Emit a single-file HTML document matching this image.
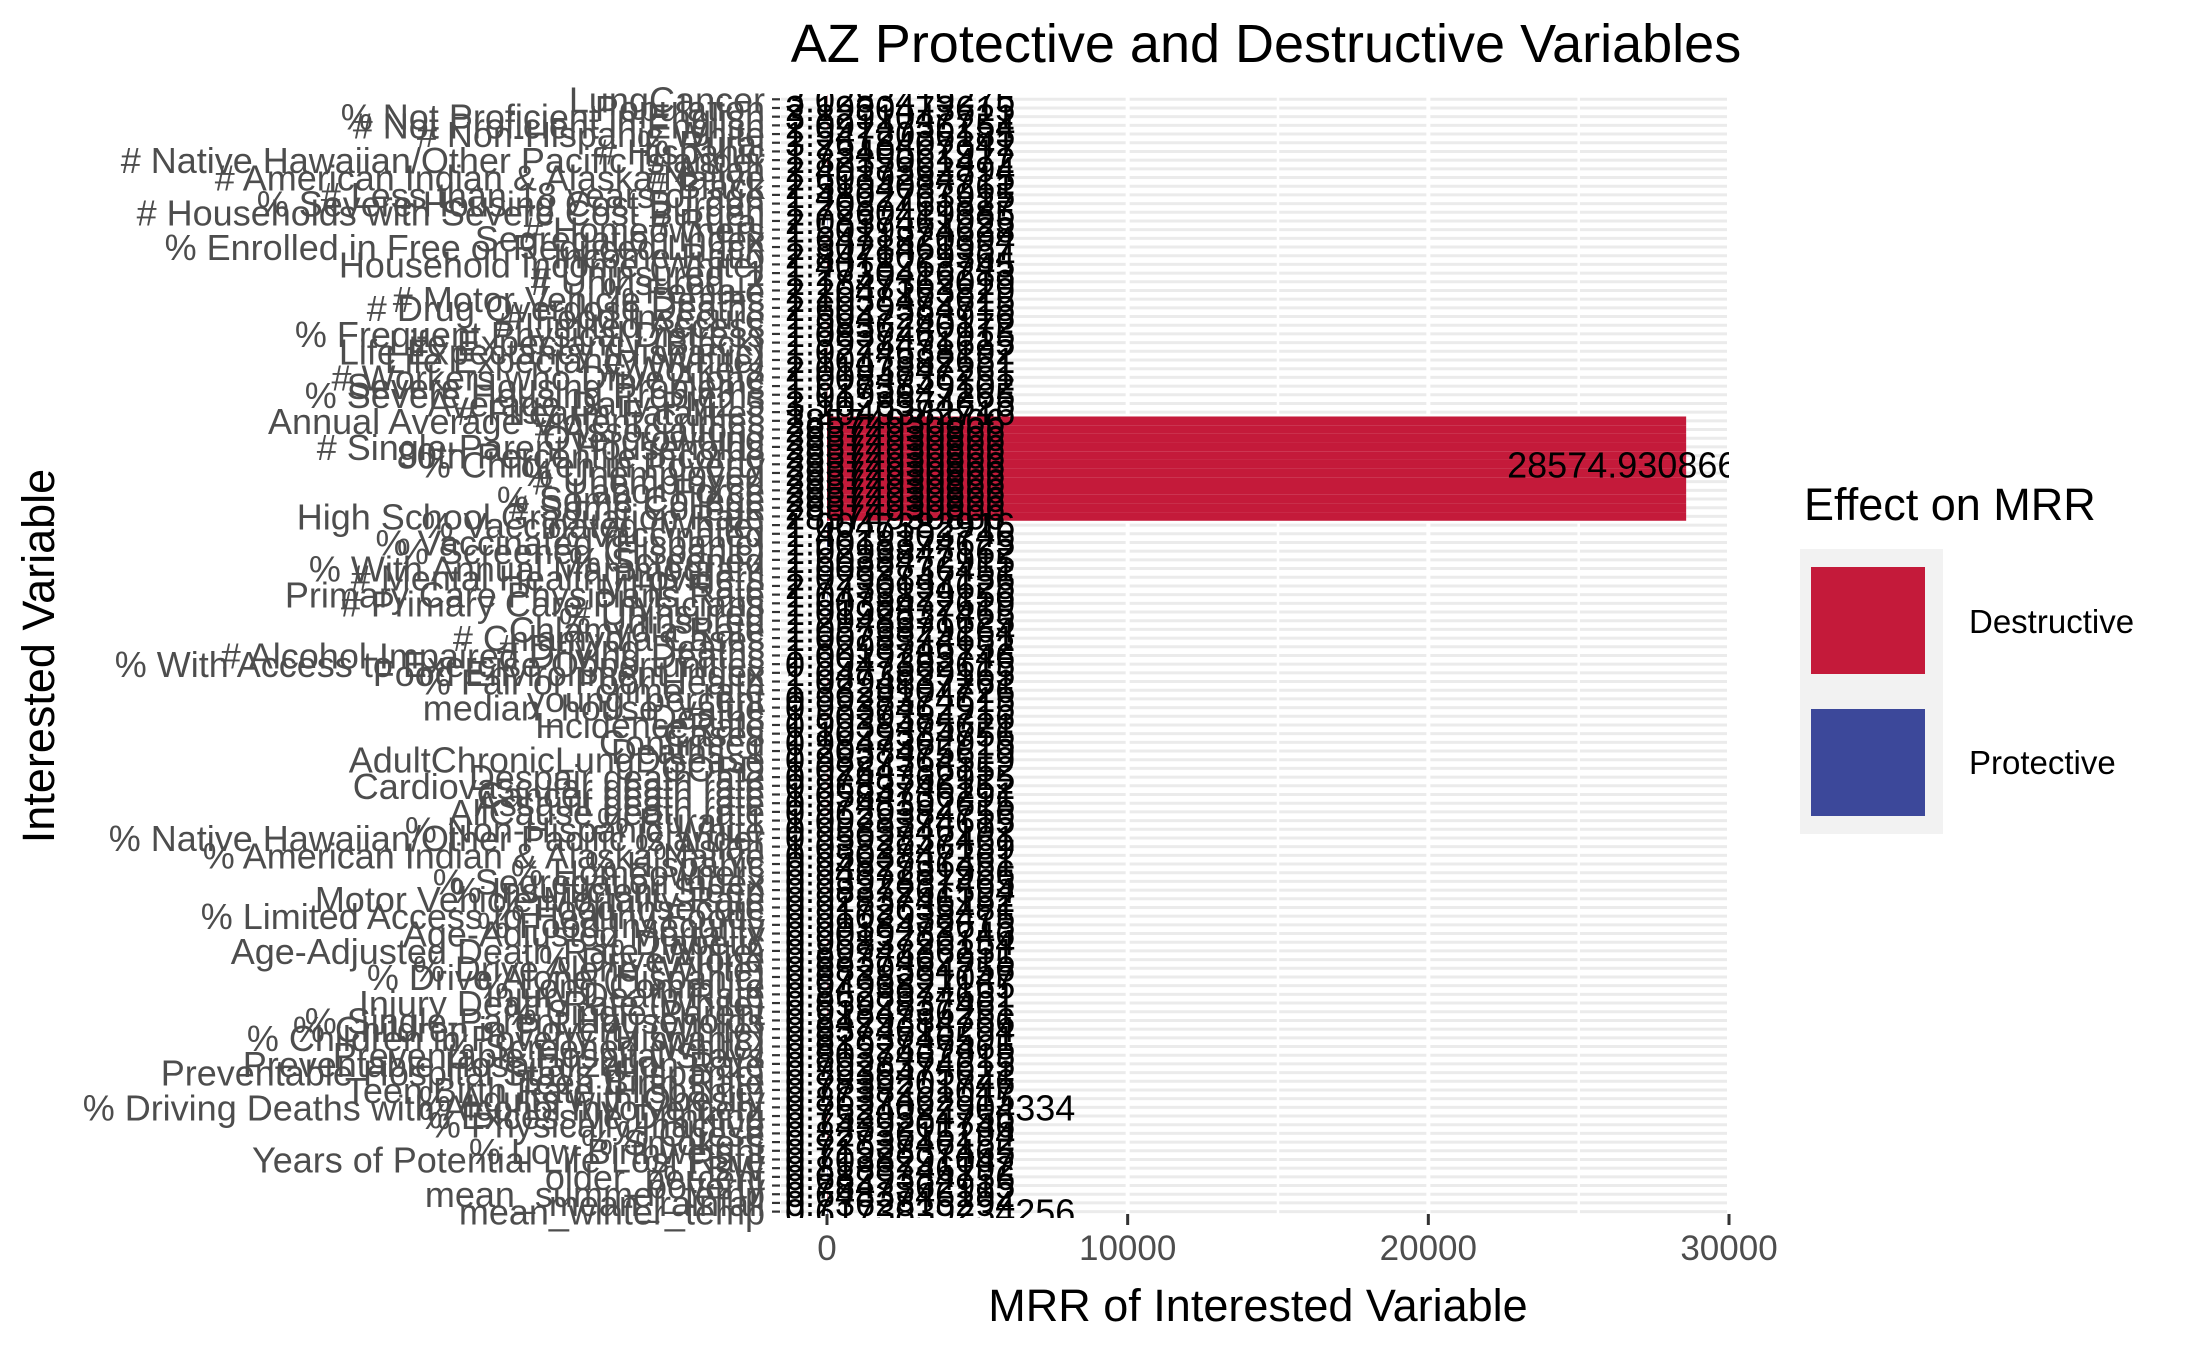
<!DOCTYPE html>
<html><head><meta charset="utf-8"><style>
html,body{margin:0;padding:0;background:#fff;}
svg{display:block;font-family:"Liberation Sans",Arial,sans-serif;}
</style></head><body>
<svg id="chart" width="2187" height="1350" viewBox="0 0 2187 1350" xmlns="http://www.w3.org/2000/svg">
<defs><clipPath id="pclip"><rect x="781" y="94" width="948" height="1124"/></clipPath></defs>
<rect x="0" y="0" width="2187" height="1350" fill="#fff"/>
<g id="grid"></g>
<g id="bars"></g>
<g id="vals" clip-path="url(#pclip)"></g>
<g id="ylabels"></g>
<g id="xaxis"></g>
<text x="1266" y="62" text-anchor="middle" font-size="54" fill="#000">AZ Protective and Destructive Variables</text>
<text x="1258" y="1321" text-anchor="middle" font-size="45" fill="#000">MRR of Interested Variable</text>
<text x="0" y="0" transform="translate(54,656) rotate(-90)" text-anchor="middle" font-size="45" fill="#000">Interested Variable</text>
<g>
<text x="1804" y="520" font-size="45" fill="#000">Effect on MRR</text>
<rect x="1800" y="549" width="143" height="285" fill="#f2f2f2"/>
<rect x="1811" y="567" width="114" height="107" fill="#c41a3a"/>
<rect x="1811" y="709" width="114" height="107" fill="#3c489a"/>
<text x="1969" y="633" font-size="33" fill="#000">Destructive</text>
<text x="1969" y="774" font-size="33" fill="#000">Protective</text>
</g>
</svg>
<script>
const categories = ["LungCancer","Population","% Not Proficient in English","# Not Proficient in English","# Non-Hispanic White","% Rural","# Hispanic","# Native Hawaiian/Other Pacific Islander","# Asian","# American Indian & Alaska Native","# Black","# Less than 18 years of age","% Severe Housing Cost Burden","# Households with Severe Cost Burden","# Rural","# Homeowners","Segregation index","% Enrolled in Free or Reduced Lunch","Income Ratio","Household Income (White)","# Uninsured_1","# Uninsured_2","% Female","# Motor Vehicle Deaths","# Drug Overdose Deaths","# Food Insecure","# Limited Access","% Frequent Physical Distress","Life Expectancy (Black)","Life Expectancy (Hispanic)","Life Expectancy (White)","# Workers","# Workers who Drive Alone","Severe Housing Problems","% Severe Housing Problems","Average Daily PM2.5","# Firearm Fatalities","Annual Average Violent Crimes","# Associations","Overcrowding","# Single-Parent Households","80th Percentile Income","% Children in Poverty","% Unemployed","# Unemployed","Labor Force","% Some College","# Some College","High School Graduation Rate","% Vaccinated (White)","% Vaccinated","% Vaccinated (Hispanic)","% Screened (Hispanic)","% Screened","% With Annual Mammogram","# Mental Health Providers","MHP Rate","Primary Care Physicians Rate","# Primary Care Physicians","# Uninsured","% Uninsured","Chlamydia Rate","# Chlamydia Cases","# Driving Deaths","# Alcohol-Impaired Driving Deaths","% With Access to Exercise Opportunities","Food Environment Index","% Fair or Poor Health","crime_rate","young_percent","median_house_value","Deaths","IncidenceRate","Cases","Confirmed","Deaths_1","AdultChronicLungDisease","COPD","Despair death rate","Cardiovascular death rate","Cancer death rate","Assault death rate","AllCause death rate","% Rural_1","% Non-Hispanic White","% Native Hawaiian/Other Pacific Islander","% Asian","% American Indian & Alaska Native","% Hispanic","% Homeowners","% Segregation index","% Insufficient Sleep","Motor Vehicle Mortality Rate","% Food Insecure","% Limited Access to Healthy Foods","% Food Insecurity","Age-Adjusted Mortality","% Diabetic","Age-Adjusted Death Rate (White)","% Drive Alone","% Drive Alone (White)","% Drive Alone (Hispanic)","% Long Commute","Injury Death Rate","Injury Death Rate (White)","% Single-Parent","% Single-Parent Households","% Children in Poverty (White)","% Children in Poverty (Hispanic)","% Screened (White)","Preventable Hospital Stays","Preventable Hospitalization Rate","Preventable Hospital Stays (Hispanic)","Teen Birth Rate","Teen Birth Rate (Hispanic)","% Adults with Obesity","% Driving Deaths with Alcohol Involvement","% Excessive Drinking","% Physically Inactive","% Obese","% Smokers","% Low Birthweight","Years of Potential Life Lost Rate","% LBW","older_percent","poverty","mean_summer_temp","mean_rainfall","mean_winter_temp"];
const values = [
3.0283419275,2.1930473615,3.8291047721,2.0914736254,1.9472036185,3.2618407341,1.7340562917,1.8235061472,2.4017362894,1.6039284715,
2.5194037261,1.4802763915,1.2037461827,1.7260419385,2.0837461925,1.5019374628,1.6471820394,1.3028461957,2.8471029364,1.4018263745,
1.2730416283,1.1847362019,2.2047163829,1.1038472615,2.6029384715,1.5047283916,1.9836240172,1.0837462915,1.3928471625,1.0274638192,
1.1047382651,2.0193847261,1.0084736251,1.6273849102,1.0193847265,3.1028374625,1.2049382716,28574.930866,28574.930866,28574.930866,
28574.930866,28574.930866,28574.930866,28574.930866,28574.930866,28574.930866,28574.930866,28574.930866,28574.930866,1.0047382916,
1.4829103746,1.0018374625,1.0293847162,1.6038472915,1.0082736451,1.0293847156,2.7730194625,1.0473829156,1.0038472619,1.0192837465,
1.2948371625,1.0573829164,1.0028374651,1.8293746152,1.0019283746,0.9947382615,1.0473829165,1.0294837261,1.3829104726,0.9928374615,
0.9837462915,1.5029384716,0.9938475621,1.1029384756,0.9847362915,1.2038475619,0.9827364519,1.0284736152,0.9748362915,0.9683746152,
1.0584736291,0.9748392615,0.9629384756,1.0928374615,0.9583746192,0.9592837461,1.0382746159,0.9503847261,0.9482736451,0.9437281956,
0.9392837465,0.9837261594,0.9283746152,0.9172635481,0.9102938475,0.9938472615,0.9019283746,0.9583726154,0.8974836251,0.8837462915,
0.8829384756,0.8738291047,0.9493827165,0.8628374651,0.8592837461,0.9184736251,0.8429384756,0.8374615294,0.8283746591,0.8192837465,
0.8037462915,0.7928374615,0.8938475621,0.7839201746,0.7738291047,0.8637462915,0.7624022904334,0.7529384756,0.7439201746,0.8273615294,
0.7283746152,0.7192837465,0.7038291047,0.8183746192,0.6829384756,0.7847362915,0.6483746192,0.7362815294,0.6173839234256];
const effects = ["D","P","D","D","P","D","P","D","P","P","D","P","D","D","P","P","D","D","P","D","P","P","D","D","D","P","D","D","P","D","P","D","P","D","D","P","D","D","D","D","D","D","D","D","D","D","D","D","D","P","D","P","P","D","P","P","D","P","P","P","D","P","P","D","P","P","P","D","P","P","P","D","P","D","P","D","P","D","D","D","P","D","D","P","P","P","P","P","P","P","P","D","P","P","P","D","P","D","P","P","P","P","D","P","P","D","P","P","P","P","P","P","P","D","P","P","D","D","P","D","P","P","P","P","P","P","D","P","P"];
const xTicks = [0,10000,20000,30000];
const xTickLabels = ["0","10000","20000","30000"];
const xMinor = [5000,15000,25000];

const NS = "http://www.w3.org/2000/svg";
const X0 = 827, X1 = 1729;
function xScale(v){ return X0 + (X1 - X0) * v / 30000; }
const ROW0 = 99.3, STEP = 8.69;
function yScale(i){ return ROW0 + (i + 0.5) * STEP; }
function mk(tag, attrs, parent){ const e = document.createElementNS(NS, tag); for (const k in attrs) e.setAttribute(k, attrs[k]); parent.appendChild(e); return e; }

const grid = document.getElementById('grid');
const bars = document.getElementById('bars');
const vals = document.getElementById('vals');
const ylab = document.getElementById('ylabels');
const xax = document.getElementById('xaxis');
const PL = 781, PR = 1729, PT = 94, PB = 1216;

categories.forEach((c, i) => {
  const y = yScale(i) - 0.5 * STEP;
  const g = mk('line', {x1: PL, x2: PR, y1: y, y2: y, stroke: '#ebebeb', 'stroke-width': 3}, grid);
  
  
});
xMinor.forEach(v => {
  const l = mk('line', {x1: xScale(v), x2: xScale(v), y1: PT, y2: PB, stroke: '#fff', 'stroke-width': 2.5}, grid);
  
  
});
xTicks.forEach(v => {
  const l = mk('line', {x1: xScale(v), x2: xScale(v), y1: PT, y2: PB, stroke: '#fff', 'stroke-width': 4}, grid);
  
  
});

// find middle row of the large-value block (gets the large label)
const bigRows = values.map((v, i) => v > 1000 ? i : -1).filter(i => i >= 0);
const midBig = bigRows.length ? bigRows[Math.floor(bigRows.length / 2) - 1] : -1;

categories.forEach((c, i) => {
  const v = values[i];
  const yc = yScale(i) - 0.5 * STEP;
  const big = v > 1000;
  const h = big ? STEP * 1.0 : STEP * 0.9;
  const x0 = xScale(Math.min(0, v)), x1 = xScale(Math.max(0, v));
  const r = mk('rect', {x: x0, y: yc - h / 2, width: Math.max(x1 - x0, 0.5), height: h, fill: effects[i] === 'D' ? '#c41a3a' : '#3c489a'}, bars);
  
  

  const t = mk('text', {x: xScale(0) - 42, y: yc + 13, 'font-size': 36, fill: '#000'}, vals);
  t.textContent = big ? String(v).replace('.', '').slice(0, 12) : String(v);
  
  
  if (i === midBig) {
    const tb = mk('text', {x: xScale(v) - 179, y: yc + 13, 'font-size': 36, fill: '#000'}, vals);
    tb.textContent = String(v);
    
    
  }

  const lt = mk('text', {x: 765, y: yc + 13, 'text-anchor': 'end', 'font-size': 36, fill: '#4d4d4d'}, ylab);
  lt.textContent = c;
  
  

  const tk = mk('line', {x1: 772, x2: 780, y1: yc, y2: yc, stroke: '#333', 'stroke-width': 2.2}, ylab);
  
  
});

xTicks.forEach((v, i) => {
  const l = mk('line', {x1: xScale(v), x2: xScale(v), y1: 1214, y2: 1225, stroke: '#333', 'stroke-width': 3}, xax);
  
  
  const t = mk('text', {x: xScale(v), y: 1260, 'text-anchor': 'middle', 'font-size': 35, fill: '#4d4d4d'}, xax);
  t.textContent = xTickLabels[i];
  
  
});
</script>
</body></html>
